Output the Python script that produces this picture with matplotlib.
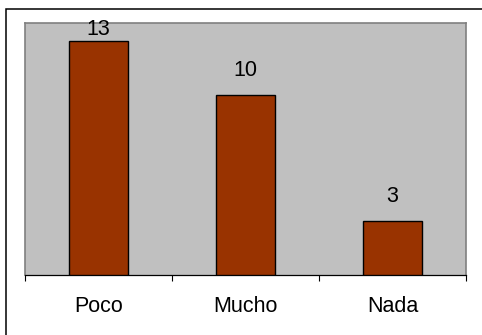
import numpy as np
import matplotlib
matplotlib.use("Agg")
import matplotlib.pyplot as plt
from matplotlib.patches import Rectangle

categories = ["Poco", "Mucho", "Nada"]
values = [13, 10, 3]

plt.rcParams["font.family"] = ["Liberation Sans", "DejaVu Sans"]

W, H = 482, 335
fig = plt.figure(figsize=(W / 100, H / 100), dpi=100)

# outer chart frame (cut off at right and bottom)
fig.patches.append(Rectangle((6 / W, -0.1), 1.2, 1 - 9 / H + 0.1, transform=fig.transFigure,
                             fill=False, edgecolor="black", linewidth=1.1))

ax = fig.add_axes([25 / W, (H - 275) / H, (466 - 25) / W, (275 - 23) / H])
ax.set_facecolor("#C0C0C0")

x = np.arange(len(categories))
ax.bar(x, values, width=0.4, color="#993300", edgecolor="black", linewidth=1.0, zorder=3)

for xi, v in zip(x, values):
    ax.text(xi, min(v + 1.05, 13.33), str(v), ha="center", va="baseline", fontsize=15.5, zorder=4)

ax.set_xlim(-0.5, len(categories) - 0.5)
ax.set_ylim(0, 14)
ax.set_yticks([])

ax.set_xticks(np.arange(len(categories) + 1) - 0.5)
ax.set_xticklabels([])
ax.set_xticks(x, minor=True)
ax.set_xticklabels(categories, minor=True, fontsize=15.5)
ax.tick_params(axis="x", which="major", length=4.5, width=0.8, color="black", direction="out")
ax.tick_params(axis="x", which="minor", length=0, pad=15)

for side in ["top", "left", "right"]:
    ax.spines[side].set_color("#808080")
    ax.spines[side].set_linewidth(1.2)
ax.spines["bottom"].set_color("black")
ax.spines["bottom"].set_linewidth(0.9)

fig.savefig("out.png", dpi=100)
